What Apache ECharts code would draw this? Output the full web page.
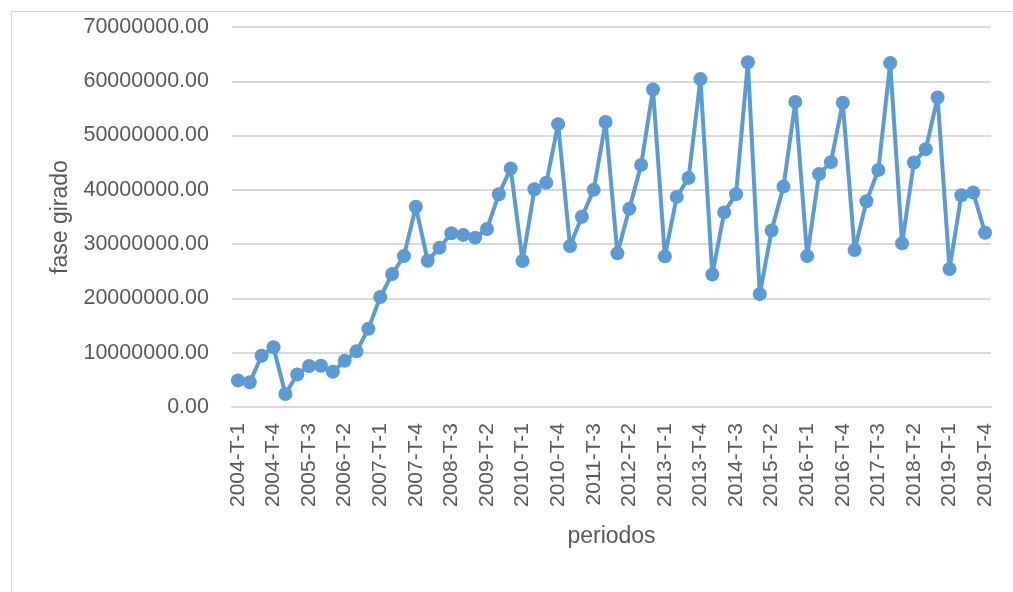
<!DOCTYPE html>
<html>
<head>
<meta charset="utf-8">
<script src="https://cdn.jsdelivr.net/npm/echarts@6/dist/echarts.min.js"></script>
<style>
    html, body { margin: 0; padding: 0; background: #fff; }
    #frame { position: absolute; left: 11px; top: 11px; width: 1020px; height: 600px; border: 1.5px solid #d9d9d9; box-sizing: border-box; }
    #main { position: absolute; left: 0; top: 0; width: 1013px; height: 592px; }
</style>
</head>
<body>
<div id="frame"></div>
<div id="main"></div>
<script>
    // periodos 2004-T-1 .. 2019-T-4
    var years = [2004, 2005, 2006, 2007, 2008, 2009, 2010, 2011, 2012, 2013, 2014, 2015, 2016, 2017, 2018, 2019];
    var periodos = [];
    years.forEach(function (y) {
        for (var q = 1; q <= 4; q++) periodos.push(y + '-T-' + q);
    });

    // fase girado (millones)
    var faseGirado = [
        4.9, 4.55, 9.45, 11.0,
        2.4, 6.0, 7.55, 7.6,
        6.5, 8.5, 10.25, 14.4,
        20.25, 24.5, 27.8, 36.9,
        26.95, 29.35, 32.0, 31.7,
        31.2, 32.8, 39.2, 43.95,
        26.9, 40.1, 41.3, 52.1,
        29.65, 35.05, 40.0, 52.5,
        28.3, 36.5, 44.6, 58.5,
        27.75, 38.7, 42.2, 60.4,
        24.4, 35.85, 39.2, 63.5,
        20.8, 32.5, 40.6, 56.2,
        27.8, 42.9, 45.1, 56.05,
        28.9, 37.9, 43.65, 63.35,
        30.15, 45.05, 47.5, 57.0,
        25.4, 39.0, 39.5, 32.1
    ].map(function (v) { return Math.round(v * 1000000); });

    var myChart = echarts.init(document.getElementById('main'));
    var labelFont = '"Liberation Sans", Arial, sans-serif';

    var option = {
        animation: false,
        grid: { left: 232, right: 22, top: 27, bottom: 185 },
        xAxis: {
            type: 'category',
            data: periodos,
            name: 'periodos',
            nameLocation: 'middle',
            nameGap: 118,
            nameTextStyle: { color: '#595959', fontSize: 23, fontFamily: labelFont },
            axisLine: { lineStyle: { color: '#d9d9d9', width: 2 } },
            axisTick: { show: false },
            axisLabel: {
                interval: 2,
                rotate: 90,
                color: '#595959',
                fontSize: 21,
                fontFamily: labelFont,
                margin: 16
            }
        },
        yAxis: {
            type: 'value',
            min: 0,
            max: 70000000,
            interval: 10000000,
            name: 'fase girado',
            nameLocation: 'middle',
            nameGap: 160,
            nameTextStyle: { color: '#595959', fontSize: 23, fontFamily: labelFont },
            axisLine: { show: false },
            axisTick: { show: false },
            splitLine: { lineStyle: { color: '#d9d9d9', width: 2 } },
            axisLabel: {
                color: '#595959',
                fontSize: 21.5,
                fontFamily: labelFont,
                margin: 23,
                formatter: function (v) { return v.toFixed(2); }
            }
        },
        series: [{
            type: 'line',
            data: faseGirado,
            symbol: 'circle',
            symbolSize: 14,
            showAllSymbol: true,
            lineStyle: { color: '#5b9bd5', width: 4 },
            itemStyle: { color: '#5b9bd5' }
        }]
    };

    myChart.setOption(option);
</script>
</body>
</html>
